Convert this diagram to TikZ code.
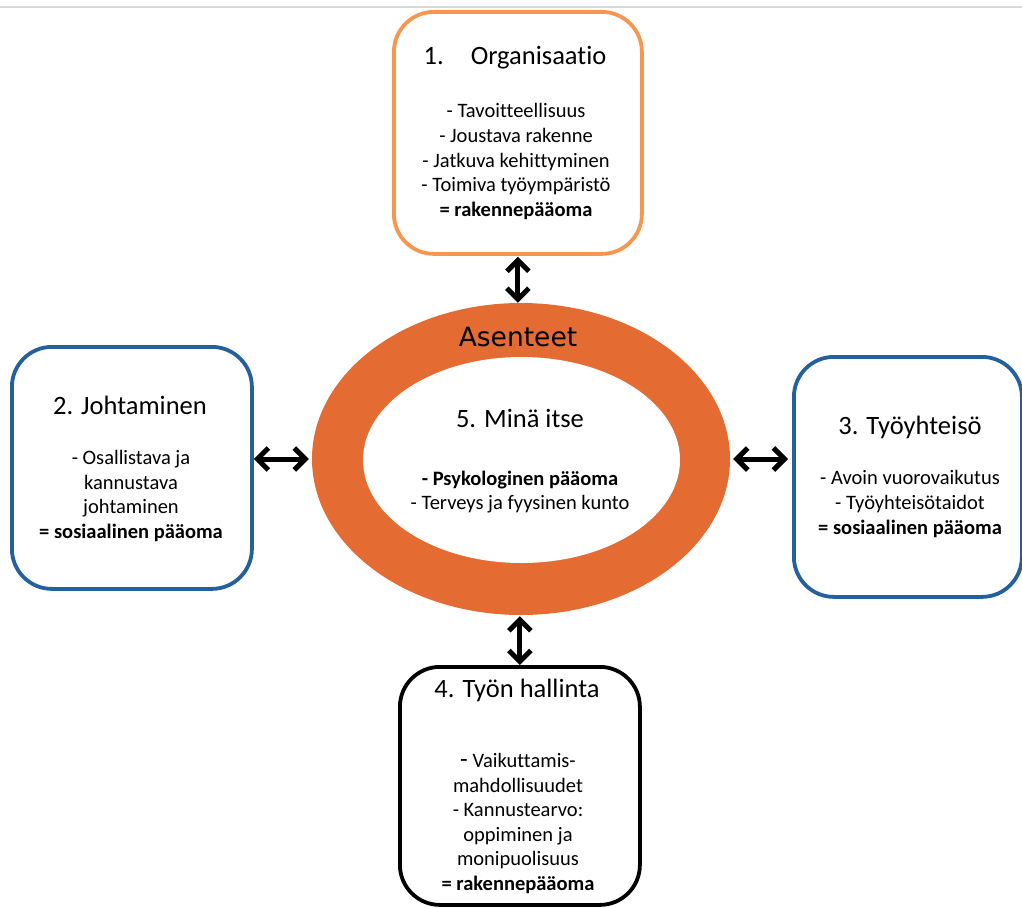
\documentclass[tikz,border=0pt]{standalone}
\usepackage{fontspec}
\setmainfont{Carlito}[Ligatures=NoCommon]
\newfontfamily\ringfont{DejaVu Sans}
\usetikzlibrary{arrows.meta,shapes.geometric}
\definecolor{boxorange}{RGB}{247,150,80}
\definecolor{ringorange}{RGB}{228,108,50}
\definecolor{boxblue}{RGB}{36,96,156}
\definecolor{topgray}{RGB}{216,216,216}
\begin{document}
\begin{tikzpicture}[x=1pt,y=-1pt,
  box/.style={draw, line width=3.8pt, rounded corners=40pt, fill=white, inner sep=0pt, anchor=north west},
  ttl/.style={font=\fontsize{26.5}{30}\selectfont, align=center, inner sep=0pt},
  body/.style={font=\fontsize{20.5}{24.6}\selectfont, align=center, inner sep=0pt},
  arr/.style={{Straight Barb[length=11pt,width=22pt]}-{Straight Barb[length=11pt,width=22pt]}, line width=5pt}
]
\useasboundingbox (0,0) rectangle (1022,907);
\draw[topgray, line width=2pt] (0,7.5) -- (1022,7.5);

% ring
\node[ellipse, fill=ringorange, minimum width=418pt, minimum height=312pt, inner sep=0pt] (ring) at (521,459) {};
\node[ellipse, fill=white, minimum width=317pt, minimum height=206pt, inner sep=0pt] (core) at (521.5,460) {};
\node[font=\ringfont\fontsize{26.5}{30}\selectfont, inner sep=0pt] (asenteet) at (518,337) {Asenteet};
\node[ttl] (t5) at (520,418) {5. Minä itse};
\node[body] (b5) at (520,492) {\textbf{- Psykologinen pääoma}\\- Terveys ja fyysinen kunto};

% boxes
\node[box, draw=boxorange, minimum width=248pt, minimum height=242pt] (box1) at (392,10) {};
\node[ttl] (t1) at (515,58) {1.\hspace{27pt}Organisaatio};
\node[body] (b1) at (516,161.5) {- Tavoitteellisuus\\- Joustava rakenne\\- Jatkuva kehittyminen\\- Toimiva työympäristö\\\textbf{= rakennepääoma}};

\node[box, draw=boxblue, minimum width=240pt, minimum height=242pt] (box2) at (10,345) {};
\node[ttl] (t2) at (130,405) {2. Johtaminen};
\node[body] (b2) at (131,496) {- Osallistava ja\\kannustava\\johtaminen\\\textbf{= sosiaalinen pääoma}};

\node[box, draw=boxblue, minimum width=228pt, minimum height=240pt] (box3) at (792,355) {};
\node[ttl] (t3) at (910,427) {3. Työyhteisö};
\node[body] (b3) at (910,504) {- Avoin vuorovaikutus\\- Työyhteisötaidot\\\textbf{= sosiaalinen pääoma}};

\node[box, draw=black, minimum width=240pt, minimum height=238pt] (box4) at (398,665) {};
\node[ttl] (t4) at (517,690) {4. Työn hallinta};
\node[body] (b4) at (518,823.5) {{\fontsize{25}{24.6}\selectfont -} Vaikuttamis-\\mahdollisuudet\\- Kannustearvo:\\oppiminen ja\\monipuolisuus\\\textbf{= rakennepääoma}};

% connectors
\draw[arr, shorten <=1pt] (box1.south) -- (box1.south |- ring.north);
\draw[arr, shorten >=3pt] (box2.east |- ring.west) -- (ring.west);
\draw[arr, shorten <=3pt, shorten >=4pt] (ring.east) -- (box3.west |- ring.east);
\draw[arr, shorten >=1pt] (box4.north) -- (box4.north |- ring.south);
\end{tikzpicture}
\end{document}
